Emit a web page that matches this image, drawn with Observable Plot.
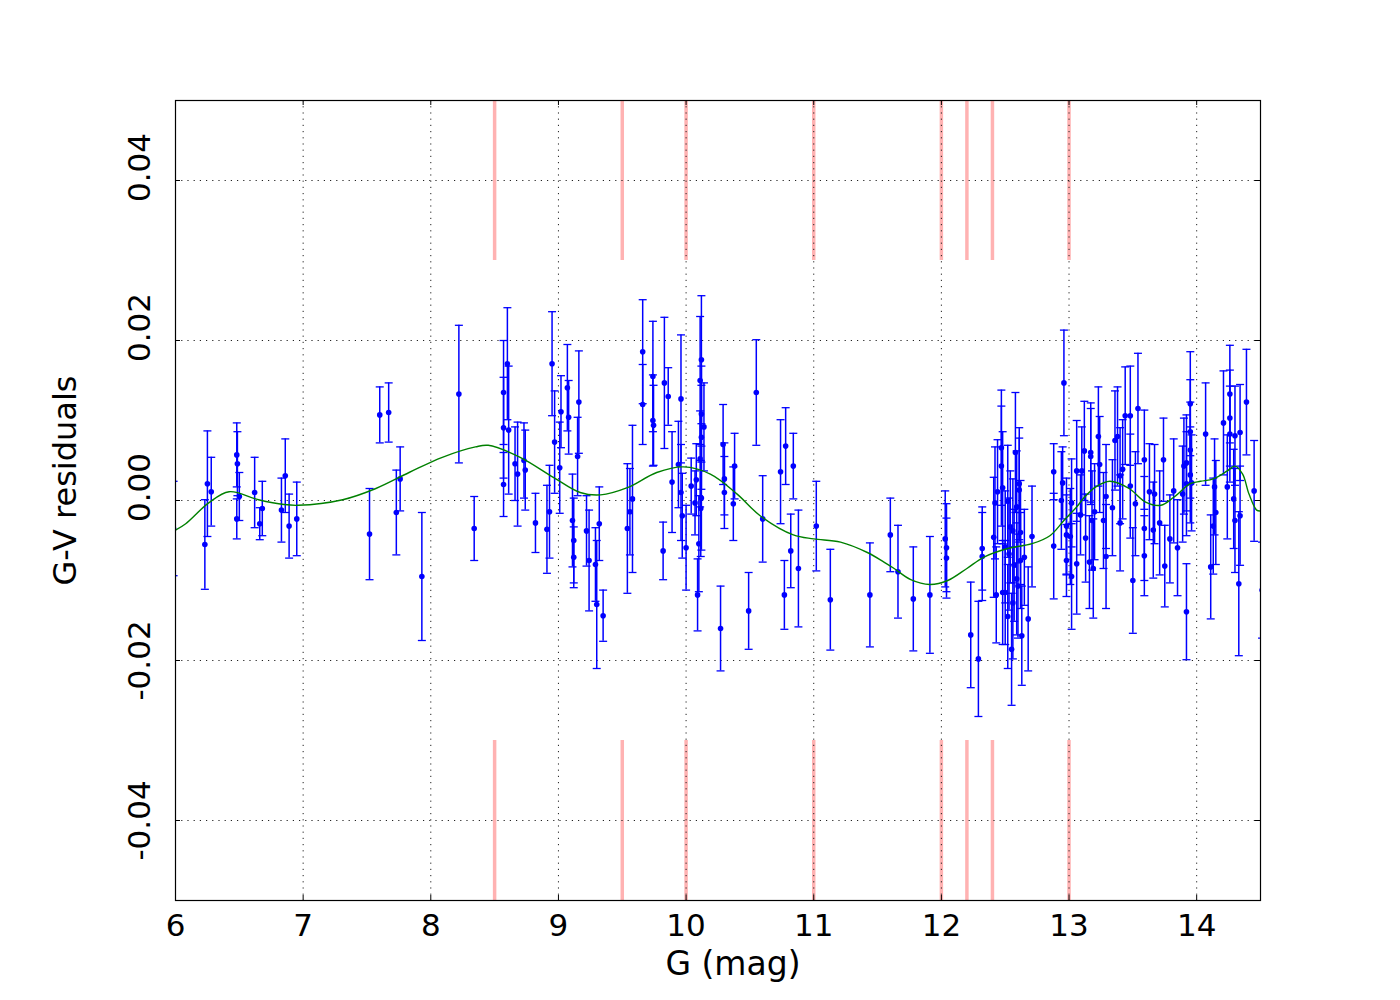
<!DOCTYPE html>
<html>
<head>
<meta charset="utf-8">
<script src="https://cdn.jsdelivr.net/npm/d3@7"></script>
<script src="https://cdn.jsdelivr.net/npm/@observablehq/plot@0.6"></script>
<style>
  html, body { margin: 0; padding: 0; background: white; }
  #chart { width: 1400px; height: 1000px; }
</style>
</head>
<body>
<div id="chart"></div>
<script>
// ---- data ----
const gMag = [
  5.985, 6.23, 6.25, 6.28, 6.48, 6.485, 6.48, 6.50, 6.62, 6.66, 6.68, 6.83, 6.86, 6.89, 6.95,
  7.52, 7.60, 7.67, 7.73, 7.76, 7.93, 8.22, 8.34,
  8.57, 8.57, 8.57, 8.60, 8.61, 8.66, 8.68, 8.73, 8.74, 8.82, 8.91, 8.93, 8.95, 8.97,
  9.01, 9.02, 9.07, 9.08, 9.11, 9.12, 9.12, 9.15, 9.16, 9.22, 9.24, 9.29, 9.30, 9.32, 9.35,
  9.54, 9.56, 9.58, 9.66, 9.66, 9.74, 9.74, 9.745, 9.82, 9.83, 9.86, 9.89, 9.94, 9.96, 9.96, 9.97,
  10.00, 10.04, 10.07, 10.08, 10.09, 10.10, 10.11, 10.11, 10.12, 10.12, 10.12, 10.115, 10.14, 10.12,
  10.27, 10.29, 10.30, 10.30, 10.37, 10.38, 10.49, 10.55, 10.60,
  10.74, 10.77, 10.78, 10.82, 10.84, 10.88, 11.02, 11.13, 11.44, 11.60, 11.66, 11.78, 11.91,
  12.03, 12.04, 12.04, 12.23, 12.29, 12.32, 12.32,
  12.41, 12.42, 12.44, 12.43, 12.47, 12.47, 12.48, 12.48, 12.50, 12.50, 12.52, 12.52, 12.53, 12.54,
  12.55, 12.56, 12.56, 12.57, 12.58, 12.59, 12.59, 12.60, 12.61, 12.61, 12.62, 12.62, 12.63, 12.65,
  12.68, 12.71,
  12.88, 12.88, 12.94, 12.95, 12.96, 12.98, 12.98, 12.98, 13.01, 13.02, 13.02, 13.06, 13.06, 13.09,
  13.10, 13.12, 13.13, 13.16, 13.17, 13.17, 13.18, 13.19, 13.20, 13.23, 13.24, 13.27, 13.29, 13.29,
  13.34, 13.36, 13.38, 13.40, 13.40, 13.42, 13.44, 13.48, 13.48, 13.50, 13.52, 13.54, 13.59, 13.59,
  13.59, 13.63, 13.66, 13.67, 13.71, 13.74, 13.75, 13.79, 13.82, 13.85, 13.89, 13.90, 13.92, 13.92,
  13.92, 13.95, 13.95, 13.95, 13.95, 13.96, 14.07, 14.11, 14.13, 14.14, 14.15, 14.21, 14.24, 14.26,
  14.26, 14.26, 14.29, 14.30, 14.30, 14.33, 14.34, 14.34, 14.39, 14.45, 14.512
];
const resid = [
  -0.0035, -0.0055, 0.0021, 0.0011, 0.0057, 0.0046, -0.0023, 0.0005, 0.0010, -0.0029, -0.0010, -0.0012, 0.0031, -0.0032, -0.0023,
  -0.0042, 0.0107, 0.0110, -0.0015, 0.0027, -0.0095, 0.0133, -0.0035,
  0.0135, 0.0091, 0.0020, 0.0171, 0.0088, 0.0046, 0.0033, 0.0050, 0.0038, -0.0028, -0.0036, -0.0014, 0.0171, 0.0073,
  0.0041, 0.0111, 0.0141, 0.0104, -0.0025, -0.0050, -0.0071, 0.0055, 0.0123, -0.0038, -0.0075, -0.0080, -0.0130, -0.0029, -0.0144,
  -0.0035, -0.0014, 0.0002, 0.0186, 0.0120, 0.0155, 0.0100, 0.0094, -0.0063, 0.0147, 0.0130, 0.0023, 0.0045, 0.0127, 0.0010, -0.0019,
  -0.0059, 0.0018, -0.0003, 0.0026, -0.0118, -0.0054, 0.0052, 0.0150, 0.0176, 0.0079, 0.0003, -0.0010, 0.0092, 0.0108,
  -0.0160, 0.0070, 0.0027, 0.0010, -0.0004, 0.0043, -0.0138, 0.0135, -0.0023,
  0.0036, -0.0118, 0.0068, -0.0063, 0.0043, -0.0085, -0.0032, -0.0124, -0.0118, -0.0043, -0.0089, -0.0123, -0.0118,
  -0.0048, -0.0059, -0.0072, -0.0168, -0.0198, -0.0060, -0.0070,
  -0.0046, -0.0003, 0.0011, -0.0118, 0.0043, 0.0066, 0.0016, -0.0115, -0.0115, -0.0058, -0.0001, -0.0145, -0.0067, -0.0033,
  -0.0186, -0.0128, -0.0038, -0.0081, 0.0060, -0.0008, -0.0098, -0.0107, 0.0013, 0.0021, -0.0040, -0.0075, -0.0169, -0.0071,
  -0.0148, -0.0045,
  0.0036, -0.0057, 0.0000, 0.0022, 0.0147, -0.0075, -0.0043, -0.0032, -0.0045, -0.0095, -0.0003, 0.0037, -0.0079, -0.0018,
  0.0037, 0.0062, -0.0047, -0.0077, 0.0060, 0.0055, -0.0025, -0.0085, -0.0014, 0.0080, 0.0045, -0.0025, 0.0005, -0.0070,
  -0.0009, 0.0075, 0.0080, 0.0031, -0.0028, 0.0039, 0.0106, 0.0018, 0.0106, -0.0100, -0.0004, 0.0115, 0.0051, -0.0035,
  -0.0069, 0.0011, -0.0037, 0.0008, -0.0028, 0.0051, -0.0082, -0.0048, 0.0012, -0.0059, 0.0008, 0.0043, 0.0047, -0.0139,
  0.0021, 0.0063, 0.0086, 0.0121, 0.0032, 0.0022, 0.0083, -0.0083, -0.0032, 0.0017, -0.0015, 0.0097, 0.0017, 0.0133,
  0.0103, 0.0083, 0.0002, -0.0025, 0.0081, -0.0104, -0.0019, 0.0085, 0.0123, 0.0012, -0.0112
];
const err = [
  0.0059, 0.0056, 0.0066, 0.0043, 0.0040, 0.0040, 0.0025, 0.0030, 0.0044, 0.0020, 0.0034, 0.0040, 0.0046, 0.0040, 0.0046,
  0.0057, 0.0035, 0.0037, 0.0053, 0.0040, 0.0080, 0.0086, 0.0040,
  0.0065, 0.0063, 0.0040, 0.0070, 0.0080, 0.0046, 0.0065, 0.0047, 0.0050, 0.0037, 0.0055, 0.0058, 0.0065, 0.0064,
  0.0057, 0.0045, 0.0054, 0.0046, 0.0058, 0.0053, 0.0038, 0.0049, 0.0064, 0.0044, 0.0063, 0.0046, 0.0080, 0.0046, 0.0032,
  0.0081, 0.0054, 0.0092, 0.0065, 0.0050, 0.0069, 0.0057, 0.0050, 0.0036, 0.0082, 0.0036, 0.0063, 0.0054, 0.0080, 0.0060, 0.0053,
  0.0053, 0.0035, 0.0040, 0.0045, 0.0045, 0.0060, 0.0060, 0.0080, 0.0080, 0.0065, 0.0065, 0.0060, 0.0055, 0.0060,
  0.0053, 0.0050, 0.0045, 0.0045, 0.0046, 0.0041, 0.0048, 0.0066, 0.0054,
  0.0065, 0.0043, 0.0048, 0.0046, 0.0041, 0.0073, 0.0056, 0.0063, 0.0065, 0.0046, 0.0058, 0.0065, 0.0073,
  0.0060, 0.0055, 0.0050, 0.0066, 0.0072, 0.0052, 0.0055,
  0.0075, 0.0070, 0.0065, 0.0060, 0.0075, 0.0072, 0.0070, 0.0065, 0.0065, 0.0070, 0.0070, 0.0065, 0.0070, 0.0070,
  0.0070, 0.0070, 0.0065, 0.0070, 0.0075, 0.0070, 0.0070, 0.0065, 0.0065, 0.0070, 0.0065, 0.0060, 0.0062, 0.0060,
  0.0065, 0.0063,
  0.0035, 0.0066, 0.0061, 0.0045, 0.0066, 0.0045, 0.0050, 0.0060, 0.0060, 0.0066, 0.0055, 0.0063, 0.0063, 0.0050,
  0.0055, 0.0062, 0.0055, 0.0058, 0.0062, 0.0060, 0.0062, 0.0062, 0.0060, 0.0062, 0.0060, 0.0060, 0.0065, 0.0065,
  0.0060, 0.0062, 0.0062, 0.0060, 0.0060, 0.0062, 0.0061, 0.0065, 0.0062, 0.0066, 0.0065, 0.0069, 0.0062, 0.0065,
  0.0050, 0.0060, 0.0060, 0.0062, 0.0065, 0.0052, 0.0051, 0.0055, 0.0065, 0.0060, 0.0060, 0.0060, 0.0060, 0.0060,
  0.0065, 0.0060, 0.0065, 0.0065, 0.0060, 0.0060, 0.0064, 0.0065, 0.0060, 0.0060, 0.0065, 0.0065, 0.0065, 0.0061,
  0.0060, 0.0060, 0.0062, 0.0065, 0.0062, 0.0090, 0.0062, 0.0060, 0.0066, 0.0063, 0.0060
];

// smooth fit (green)
const curveG = [6.00, 6.08, 6.26, 6.42, 6.65, 6.85, 6.96, 7.31, 7.57, 7.83, 8.09, 8.35, 8.45, 8.70, 8.96, 9.17, 9.33,
  9.54, 9.77, 9.98, 10.19, 10.40, 10.58, 10.84, 11.00, 11.21, 11.42, 11.55, 11.63, 11.76, 11.91, 12.05, 12.20, 12.33,
  12.52, 12.71, 12.85, 12.96, 13.06, 13.12, 13.21, 13.32, 13.47, 13.60, 13.72, 13.82, 13.95, 14.03, 14.13, 14.24,
  14.30, 14.36, 14.41, 14.47, 14.50];
const curveV = [-0.0037, -0.0029, -0.0003, 0.0011, 0.0001, -0.0005, -0.0006, 0.0001, 0.0015, 0.0035, 0.0054, 0.0067, 0.0069, 0.0054, 0.0029, 0.0010, 0.0007,
  0.0016, 0.0035, 0.0042, 0.0033, 0.0008, -0.0019, -0.0043, -0.0048, -0.0052, -0.0065, -0.0077, -0.0085, -0.0099, -0.0105, -0.0100, -0.0085, -0.0071,
  -0.0060, -0.0054, -0.0044, -0.0025, -0.0008, 0.0004, 0.0017, 0.0024, 0.0015, -0.0002, -0.0006, 0.0004, 0.0021, 0.0024, 0.0027, 0.0037,
  0.0043, 0.0033, 0.0008, -0.0012, -0.0013];

// red marker lines
const markerG = [8.5, 9.5, 10, 11, 12, 12.2, 12.4, 13];
const markerSpans = [[0.03, 0.05], [-0.05, -0.03]];

const xTicks = [6, 7, 8, 9, 10, 11, 12, 13, 14];
const yTicks = [-0.04, -0.02, 0.00, 0.02, 0.04];
const yTickLabels = ["-0.04", "-0.02", "0.00", "0.02", "0.04"];
const xLabel = "G (mag)";
const yLabel = "G-V residuals";

// ---- build tables ----
const points = gMag.map((g, i) => ({g, v: resid[i], e: err[i]}));
const curve = curveG.map((g, i) => ({g, v: curveV[i]}));
const markers = markerG.flatMap(g => markerSpans.map(([a, b]) => ({g, y1: a, y2: b})));
const yTickTable = yTicks.map((v, i) => ({v, label: yTickLabels[i]}));
const yTickNeg = yTickTable.filter(d => d.label.startsWith("-"));
const yTickPos = yTickTable.filter(d => !d.label.startsWith("-"));

const capSymbol = { draw(ctx) { ctx.moveTo(-4, 0); ctx.lineTo(4, 0); } };
const font = "DejaVu Sans";

const chart = Plot.plot({
  width: 1400,
  height: 1000,
  marginLeft: 175,
  marginRight: 140,
  marginTop: 100,
  marginBottom: 100,
  style: {fontFamily: font, background: "white", color: "black"},
  x: {domain: [6, 14.5], axis: null},
  y: {domain: [-0.05, 0.05], axis: null},
  marks: [
    Plot.ruleX(markers, {x: "g", y1: "y1", y2: "y2", stroke: "#ff0000", strokeOpacity: 0.3, strokeWidth: 3.5}),
    Plot.ruleX(xTicks, {stroke: "#222", strokeWidth: 1, strokeDasharray: "1.2,5"}),
    Plot.ruleY(yTicks, {stroke: "#222", strokeWidth: 1, strokeDasharray: "1.2,5"}),
    Plot.ruleX(points, {x: "g", y1: d => d.v - d.e, y2: d => d.v + d.e, stroke: "blue", strokeWidth: 1.5, clip: true}),
    Plot.dot(points, {x: "g", y: d => d.v + d.e, symbol: capSymbol, stroke: "blue", strokeWidth: 1.3, fill: "none", clip: true}),
    Plot.dot(points, {x: "g", y: d => d.v - d.e, symbol: capSymbol, stroke: "blue", strokeWidth: 1.3, fill: "none", clip: true}),
    Plot.dot(points, {x: "g", y: "v", r: 2.8, fill: "blue", stroke: "none", clip: true}),
    Plot.line(curve, {x: "g", y: "v", stroke: "green", strokeWidth: 1.4, curve: "catmull-rom", clip: true}),
    // inward ticks on all four sides
    Plot.ruleX(xTicks, {insetTop: 795, stroke: "black", strokeWidth: 1}),
    Plot.ruleX(xTicks, {insetBottom: 795, stroke: "black", strokeWidth: 1}),
    Plot.ruleY(yTicks, {insetRight: 1080, stroke: "black", strokeWidth: 1}),
    Plot.ruleY(yTicks, {insetLeft: 1080, stroke: "black", strokeWidth: 1}),
    Plot.frame({stroke: "black", strokeWidth: 1.2}),
    // tick labels
    Plot.text(xTicks, {x: d => d, text: d => String(d), frameAnchor: "bottom", lineAnchor: "middle", dy: 26, fontSize: 31, fill: "black"}),
    Plot.text(yTickNeg, {y: "v", text: "label", frameAnchor: "left", textAnchor: "middle", lineAnchor: "middle", dx: -35, rotate: -90, fontSize: 31, fill: "black"}),
    Plot.text(yTickPos, {y: "v", text: "label", frameAnchor: "left", textAnchor: "middle", lineAnchor: "middle", dx: -35, dy: -13, rotate: -90, fontSize: 31, fill: "black"}),
    // axis titles
    Plot.text([xLabel], {text: d => d, frameAnchor: "bottom", lineAnchor: "middle", textAnchor: "middle", dy: 64, dx: 15, fontSize: 33, fill: "black"}),
    Plot.text([yLabel], {text: d => d, frameAnchor: "left", lineAnchor: "middle", textAnchor: "middle", dx: -110, dy: -20, rotate: -90, fontSize: 32, fill: "black"})
  ]
});
document.getElementById("chart").appendChild(chart);
</script>
</body>
</html>
